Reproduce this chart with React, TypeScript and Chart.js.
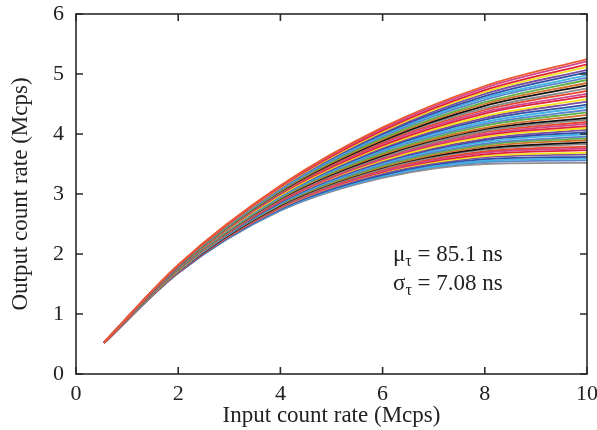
import React, { useEffect, useRef } from 'react';
import { Chart, registerables } from 'chart.js';

Chart.register(...registerables);

// Input count rate (Mcps) at which each curve is sampled
const inputRate = [0.55, 2, 4, 6, 8, 10];

// Output count rate (Mcps) for each simulated detector curve, top to bottom
const outputRates: number[][] = [
  [0.53, 1.82, 3.14, 4.11, 4.8, 5.25],
  [0.53, 1.82, 3.13, 4.09, 4.77, 5.21],
  [0.53, 1.81, 3.12, 4.06, 4.73, 5.16],
  [0.53, 1.81, 3.11, 4.04, 4.7, 5.12],
  [0.53, 1.81, 3.1, 4.02, 4.67, 5.07],
  [0.53, 1.8, 3.1, 4.0, 4.63, 5.03],
  [0.53, 1.8, 3.09, 3.98, 4.6, 4.98],
  [0.53, 1.8, 3.07, 3.96, 4.57, 4.94],
  [0.53, 1.79, 3.06, 3.93, 4.53, 4.9],
  [0.53, 1.79, 3.05, 3.91, 4.5, 4.85],
  [0.53, 1.79, 3.04, 3.89, 4.47, 4.81],
  [0.53, 1.78, 3.03, 3.88, 4.43, 4.76],
  [0.52, 1.78, 3.02, 3.86, 4.4, 4.72],
  [0.52, 1.78, 3.01, 3.84, 4.37, 4.67],
  [0.52, 1.77, 3.0, 3.81, 4.34, 4.63],
  [0.52, 1.77, 2.98, 3.79, 4.3, 4.58],
  [0.52, 1.77, 2.98, 3.77, 4.27, 4.54],
  [0.52, 1.76, 2.97, 3.75, 4.24, 4.49],
  [0.52, 1.76, 2.96, 3.73, 4.2, 4.45],
  [0.52, 1.76, 2.95, 3.71, 4.17, 4.4],
  [0.52, 1.75, 2.94, 3.68, 4.14, 4.36],
  [0.52, 1.75, 2.93, 3.66, 4.1, 4.32],
  [0.52, 1.75, 2.92, 3.64, 4.08, 4.27],
  [0.52, 1.74, 2.91, 3.62, 4.05, 4.24],
  [0.52, 1.74, 2.9, 3.61, 4.03, 4.2],
  [0.52, 1.74, 2.89, 3.59, 4.0, 4.17],
  [0.52, 1.74, 2.88, 3.58, 3.98, 4.13],
  [0.52, 1.73, 2.88, 3.56, 3.95, 4.1],
  [0.52, 1.73, 2.87, 3.54, 3.92, 4.07],
  [0.52, 1.73, 2.86, 3.53, 3.9, 4.03],
  [0.52, 1.72, 2.85, 3.51, 3.87, 4.0],
  [0.52, 1.72, 2.84, 3.49, 3.84, 3.96],
  [0.52, 1.72, 2.83, 3.47, 3.82, 3.93],
  [0.52, 1.72, 2.82, 3.45, 3.79, 3.9],
  [0.52, 1.71, 2.81, 3.44, 3.76, 3.86],
  [0.52, 1.71, 2.8, 3.42, 3.74, 3.83],
  [0.52, 1.71, 2.79, 3.4, 3.71, 3.79],
  [0.52, 1.7, 2.78, 3.38, 3.69, 3.76],
  [0.52, 1.7, 2.78, 3.37, 3.66, 3.73],
  [0.52, 1.7, 2.77, 3.36, 3.63, 3.69],
  [0.52, 1.7, 2.76, 3.34, 3.61, 3.66],
  [0.52, 1.69, 2.75, 3.32, 3.58, 3.62],
  [0.52, 1.69, 2.74, 3.3, 3.55, 3.59],
  [0.52, 1.69, 2.73, 3.29, 3.53, 3.56],
  [0.52, 1.68, 2.72, 3.27, 3.5, 3.52],
];

const xTicks = [0, 2, 4, 6, 8, 10];
const yTicks = [0, 1, 2, 3, 4, 5, 6];
const xTitle = 'Input count rate (Mcps)';
const yTitle = 'Output count rate (Mcps)';
const muLabel = ['μ', 'τ', ' = 85.1 ns'];
const sigmaLabel = ['σ', 'τ', ' = 7.08 ns'];

const palette = [
  '#e8452c', '#2f4fa8', '#111111', '#f3e21a', '#5fb046', '#cf468f',
  '#3fb3e3', '#8a8a8a', '#7a4fa3', '#d2702e', '#e0233a', '#5c84cc',
];

const FONT = "'Liberation Serif', 'Times New Roman', serif";
const TEXT = '#222222';

const framePlugin = {
  id: 'frameAndNotes',
  afterDraw(chart: any) {
    const { ctx, chartArea: a, scales } = chart;
    ctx.save();
    ctx.strokeStyle = '#2a2a2a';
    ctx.lineWidth = 1.6;
    ctx.strokeRect(a.left, a.top, a.right - a.left, a.bottom - a.top);
    const tl = 7;
    ctx.beginPath();
    for (const v of xTicks) {
      const px = scales.x.getPixelForValue(v);
      ctx.moveTo(px, a.bottom);
      ctx.lineTo(px, a.bottom - tl);
      ctx.moveTo(px, a.top);
      ctx.lineTo(px, a.top + tl);
    }
    for (const v of yTicks) {
      const py = scales.y.getPixelForValue(v);
      ctx.moveTo(a.left, py);
      ctx.lineTo(a.left + tl, py);
      ctx.moveTo(a.right, py);
      ctx.lineTo(a.right - tl, py);
    }
    ctx.stroke();

    ctx.fillStyle = TEXT;
    ctx.textBaseline = 'alphabetic';
    ctx.textAlign = 'left';
    const drawNote = (parts: string[], x: number, y: number) => {
      ctx.font = `23px ${FONT}`;
      ctx.fillText(parts[0], x, y);
      x += ctx.measureText(parts[0]).width;
      ctx.font = `16px ${FONT}`;
      ctx.fillText(parts[1], x, y + 5);
      x += ctx.measureText(parts[1]).width;
      ctx.font = `23px ${FONT}`;
      ctx.fillText(parts[2], x, y);
    };
    drawNote(muLabel, a.left + 317, a.top + 247);
    drawNote(sigmaLabel, a.left + 317, a.top + 276);
    ctx.restore();
  },
};

export default function App() {
  const ref = useRef<HTMLCanvasElement | null>(null);
  useEffect(() => {
    if (!ref.current) return;
    const datasets = outputRates.map((row, i) => {
      let color = palette[(i * 5) % palette.length];
      if (i === 0) color = '#ec5a2e';
      if (i === outputRates.length - 1) color = '#8f8f8f';
      return {
        data: inputRate.map((x, j) => ({ x, y: row[j] })),
        borderColor: color,
        backgroundColor: color,
        borderWidth: 1.8,
        pointRadius: 0,
        fill: false,
        cubicInterpolationMode: 'monotone' as const,
      };
    });
    const chart = new Chart(ref.current, {
      type: 'line',
      data: { datasets },
      options: {
        animation: false,
        responsive: false,
        maintainAspectRatio: false,
        layout: { padding: { top: 14, right: 10, left: 0, bottom: 0 } },
        plugins: { legend: { display: false }, tooltip: { enabled: false } },
        scales: {
          x: {
            type: 'linear',
            min: 0,
            max: 10,
            grid: { display: false, drawTicks: false, tickLength: 0 },
            border: { display: false },
            ticks: {
              stepSize: 2,
              padding: 7,
              color: TEXT,
              font: { family: FONT, size: 22 },
            },
            title: {
              display: true,
              text: xTitle,
              color: TEXT,
              font: { family: FONT, size: 23 },
              padding: { top: 0, bottom: 0 },
            },
            afterFit(scale: any) {
              scale.height = 56;
              scale.paddingLeft = 0;
              scale.paddingRight = 0;
            },
          },
          y: {
            type: 'linear',
            min: 0,
            max: 6,
            grid: { display: false, drawTicks: false, tickLength: 0 },
            border: { display: false },
            ticks: {
              stepSize: 1,
              padding: 12,
              color: TEXT,
              font: { family: FONT, size: 22 },
            },
            title: {
              display: true,
              text: yTitle,
              color: TEXT,
              font: { family: FONT, size: 23 },
              padding: { top: 7, bottom: 0 },
            },
            afterFit(scale: any) {
              scale.width = 76;
              scale.paddingTop = 0;
              scale.paddingBottom = 0;
            },
          },
        },
      },
      plugins: [framePlugin],
    });
    return () => chart.destroy();
  }, []);
  return (
    <div style={{ position: 'fixed', left: 0, top: 0, width: 597, height: 430, background: '#fff' }}>
      <canvas ref={ref} width={597} height={430} style={{ display: 'block' }} />
    </div>
  );
}
